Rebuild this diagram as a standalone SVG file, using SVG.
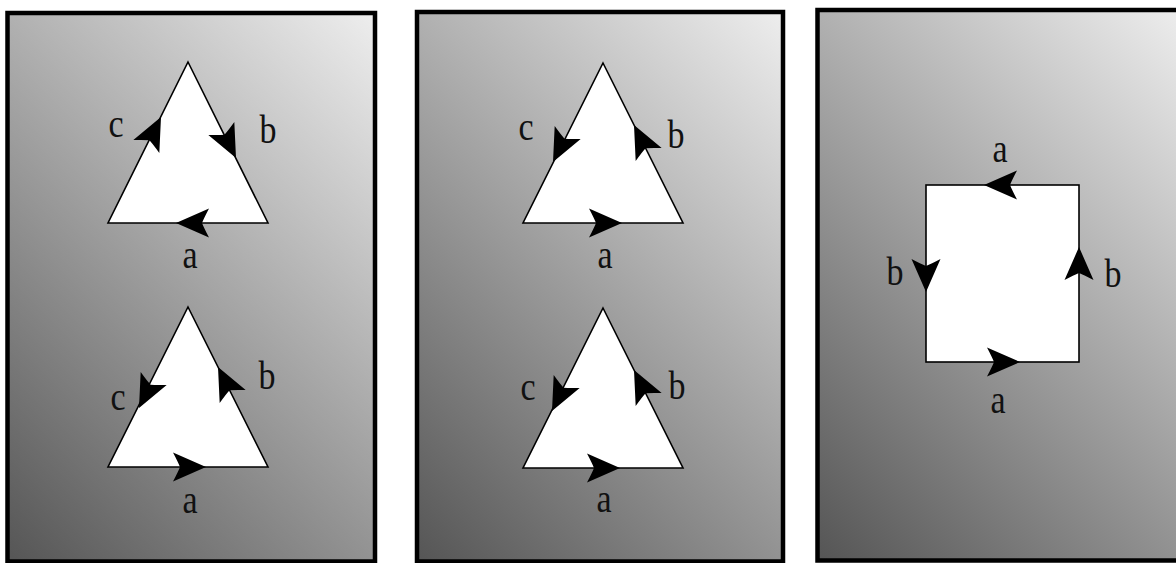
<svg xmlns="http://www.w3.org/2000/svg" xmlns:xlink="http://www.w3.org/1999/xlink" width="1176" height="563" viewBox="0 0 1176 563">
<style>
.frame{stroke:#000;stroke-width:4.5;fill:url(#bg)}
.shape{fill:#fff;stroke:#000;stroke-width:1.6;stroke-linejoin:miter}
.arr{fill:#000}
</style>
<defs>
<linearGradient id="bg" gradientUnits="userSpaceOnUse" x1="0" y1="550" x2="459" y2="91">
<stop offset="0" stop-color="#555555"/>
<stop offset="1" stop-color="#eeeeee"/>
</linearGradient>
<path id="ah" d="M0,0 L-33,-14.5 Q-28,-5 -26,0 Q-28,5 -33,14.5 Z"/>
</defs>
<rect width="1176" height="563" fill="#fff"/>
<g id="panel1">
<g transform="translate(7.5,13)"><rect class="frame" x="0" y="0" width="367.5" height="548.5"/></g>
</g>
<g id="panel2">
<g transform="translate(417,12)"><rect class="frame" x="0" y="0" width="366" height="549.5"/></g>
</g>
<g id="panel3">
<g transform="translate(817.5,10)"><rect class="frame" x="0" y="0" width="380" height="550.5"/></g>
</g>
<g id="tri1top"><polygon class="shape" points="188,62 268,223 108,223"/></g>
<g id="tri1bot"><polygon class="shape" points="188,307 268,467 108,467"/></g>
<g id="tri2top"><polygon class="shape" points="603,63 683,223 523,223"/></g>
<g id="tri2bot"><polygon class="shape" points="603,308 683,468 523,468"/></g>
<g id="square"><rect class="shape" x="926" y="185" width="153" height="177"/></g>
<g id="connectors" class="arr">
<use xlink:href="#ah" transform="translate(176,223) rotate(180)"/>
<use xlink:href="#ah" transform="translate(236,158) rotate(63.6)"/>
<use xlink:href="#ah" transform="translate(161,117) rotate(-63.6)"/>
<use xlink:href="#ah" transform="translate(206,467) rotate(0)"/>
<use xlink:href="#ah" transform="translate(218,367) rotate(-116.4)"/>
<use xlink:href="#ah" transform="translate(139,408) rotate(116.4)"/>
<use xlink:href="#ah" transform="translate(622,223) rotate(0)"/>
<use xlink:href="#ah" transform="translate(634,125) rotate(-116.4)"/>
<use xlink:href="#ah" transform="translate(553,162) rotate(116.4)"/>
<use xlink:href="#ah" transform="translate(620,468) rotate(0)"/>
<use xlink:href="#ah" transform="translate(634,370) rotate(-116.4)"/>
<use xlink:href="#ah" transform="translate(552,411) rotate(116.4)"/>
<use xlink:href="#ah" transform="translate(984,185) rotate(180)"/>
<use xlink:href="#ah" transform="translate(1020,362) rotate(0)"/>
<use xlink:href="#ah" transform="translate(926,292) rotate(90)"/>
<use xlink:href="#ah" transform="translate(1079,247) rotate(-90)"/>
</g>
<g id="labels" font-family="'Liberation Serif', 'Times New Roman', serif" font-size="34" fill="#111" text-anchor="middle">
<text transform="translate(116,137) scale(1,1.2)">c</text>
<text transform="translate(268,143) scale(1,1.2)">b</text>
<text transform="translate(190,268) scale(1,1.2)">a</text>
<text transform="translate(118,410) scale(1,1.2)">c</text>
<text transform="translate(267,389) scale(1,1.2)">b</text>
<text transform="translate(190,513) scale(1,1.2)">a</text>
<text transform="translate(526,140) scale(1,1.2)">c</text>
<text transform="translate(676,148) scale(1,1.2)">b</text>
<text transform="translate(605,268) scale(1,1.2)">a</text>
<text transform="translate(528,400) scale(1,1.2)">c</text>
<text transform="translate(677,399) scale(1,1.2)">b</text>
<text transform="translate(604,512) scale(1,1.2)">a</text>
<text transform="translate(1000,162) scale(1,1.2)">a</text>
<text transform="translate(895,285) scale(1,1.2)">b</text>
<text transform="translate(1113,287) scale(1,1.2)">b</text>
<text transform="translate(998,413) scale(1,1.2)">a</text>
</g>
</svg>
